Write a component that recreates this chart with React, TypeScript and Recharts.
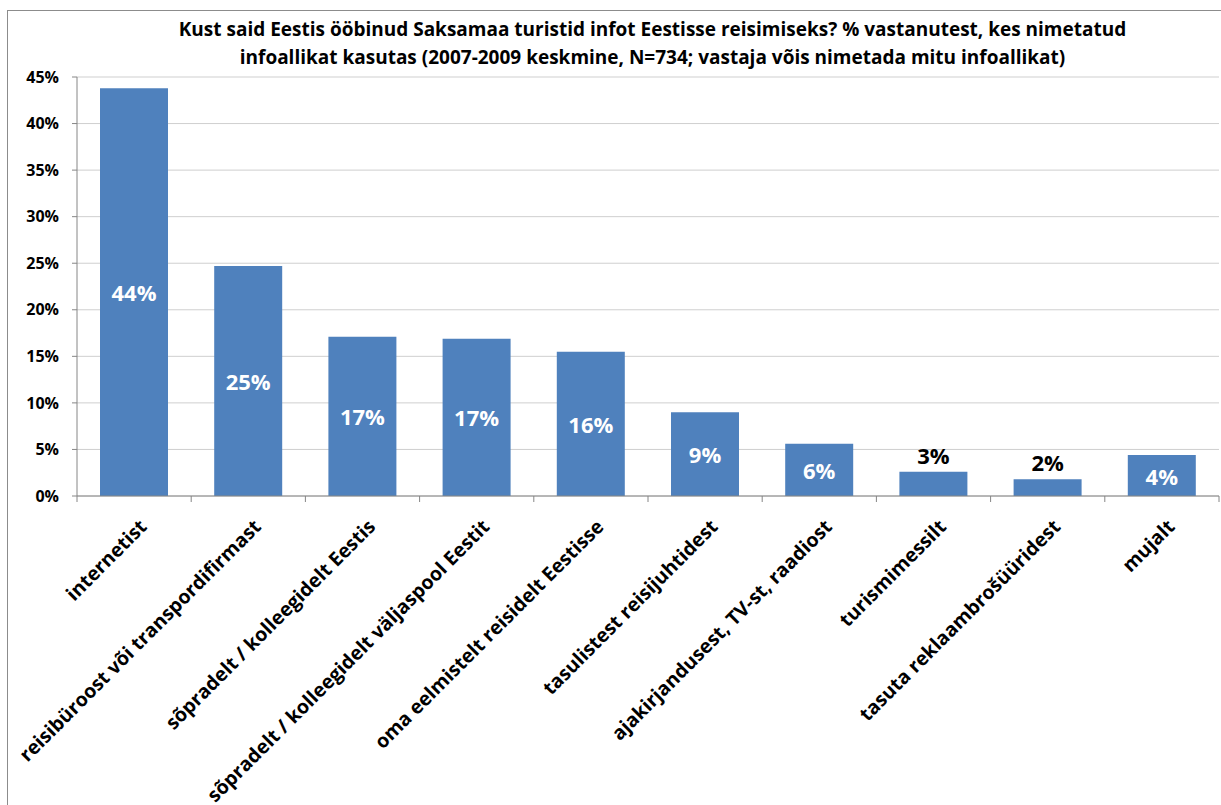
import { BarChart, Bar, XAxis, YAxis, CartesianGrid, LabelList } from "recharts";

const TITLE_LINES = [
  "Kust said Eestis ööbinud Saksamaa turistid infot Eestisse reisimiseks? % vastanutest, kes nimetatud",
  "infoallikat kasutas (2007-2009 keskmine, N=734; vastaja võis nimetada mitu infoallikat)",
];

const CATEGORIES = [
  "internetist",
  "reisibüroost või transpordifirmast",
  "sõpradelt / kolleegidelt Eestis",
  "sõpradelt / kolleegidelt väljaspool Eestit",
  "oma eelmistelt reisidelt Eestisse",
  "tasulistest reisijuhtidest",
  "ajakirjandusest, TV-st, raadiost",
  "turismimessilt",
  "tasuta reklaambrošüüridest",
  "mujalt",
];

const SHARES = [43.8, 24.7, 17.1, 16.9, 15.5, 9.0, 5.6, 2.6, 1.8, 4.4];

const Y_TICKS = [0, 5, 10, 15, 20, 25, 30, 35, 40, 45];

const data = CATEGORIES.map((name, i) => ({ name, share: SHARES[i] }));

const W = 1221;
const H = 805;
const M = { top: 77, right: 2, left: 0, bottom: 0 };
const Y_W = 77;
const FONT = "'Open Sans', 'DejaVu Sans', sans-serif";
const AXIS = "#868686";
const BLUE = "#4F81BD";
const HALF_BAND = (W - M.left - M.right - Y_W) / CATEGORIES.length / 2;

function XTick(props: any) {
  const { x, y, payload, index } = props;
  const last = index === CATEGORIES.length - 1;
  const ax = x + 14;
  const ay = y + 32;
  return (
    <g>
      <line x1={x - HALF_BAND} y1={y} x2={x - HALF_BAND} y2={y + 6} stroke={AXIS} />
      {last && <line x1={x + HALF_BAND} y1={y} x2={x + HALF_BAND} y2={y + 6} stroke={AXIS} />}
      <text
        x={ax}
        y={ay}
        transform={`rotate(-45, ${ax}, ${ay})`}
        textAnchor="end"
        fontFamily={FONT}
        fontWeight={700}
        fontSize={19.5}
        fill="#000"
      >
        {payload.value}
      </text>
    </g>
  );
}

function BarValue(props: any) {
  const { x, y, width, height, value } = props;
  const txt = `${Math.round(value)}%`;
  const inside = value >= 3.5;
  return (
    <text
      x={x + width / 2}
      y={inside ? y + height / 2 : y - 8}
      textAnchor="middle"
      dominantBaseline={inside ? "central" : "auto"}
      fontFamily={FONT}
      fontWeight={700}
      fontSize={22}
      fill={inside ? "#fff" : "#000"}
    >
      {txt}
    </text>
  );
}

export default function App() {
  return (
    <div style={{ position: "absolute", left: 0, top: 0, width: W, height: H, background: "#fff", overflow: "hidden" }}>
      <div
        style={{
          position: "absolute",
          left: 7,
          top: 10,
          width: W,
          height: H,
          borderLeft: "1px solid #8c8c8c",
          borderTop: "1px solid #8c8c8c",
        }}
      />
      <div
        style={{
          position: "absolute",
          left: 0,
          top: 15,
          width: 1305,
          textAlign: "center",
          fontFamily: FONT,
          fontWeight: 700,
          fontSize: 19,
          lineHeight: "28px",
          color: "#000",
        }}
      >
        {TITLE_LINES.map((l) => (
          <div key={l}>{l}</div>
        ))}
      </div>
      <div style={{ position: "absolute", left: 0, top: 0 }}>
        <BarChart width={W} height={H} data={data} margin={M} barSize={68}>
          <CartesianGrid vertical={false} stroke="#cfcfcf" />
          <XAxis
            dataKey="name"
            interval={0}
            height={H - 496}
            tickLine={false}
            tickSize={0}
            tickMargin={0}
            axisLine={{ stroke: AXIS }}
            tick={<XTick />}
          />
          <YAxis
            width={Y_W}
            domain={[0, 45]}
            ticks={Y_TICKS}
            tickFormatter={(v: number) => `${v}%`}
            axisLine={{ stroke: AXIS }}
            tickLine={{ stroke: AXIS }}
            tickSize={5}
            tickMargin={13}
            tick={{ fontFamily: FONT, fontWeight: 700, fontSize: 16, fill: "#000" }}
          />
          <Bar dataKey="share" fill={BLUE} isAnimationActive={false}>
            <LabelList dataKey="share" content={<BarValue />} />
          </Bar>
        </BarChart>
      </div>
    </div>
  );
}
